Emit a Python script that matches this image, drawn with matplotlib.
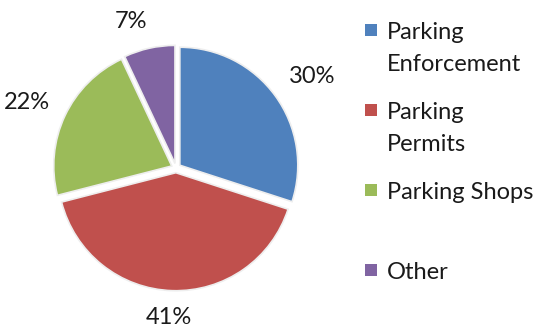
import numpy as np
import matplotlib
matplotlib.use("Agg")
import matplotlib.pyplot as plt
from matplotlib.patches import Rectangle

plt.rcParams["font.family"] = ["Lato", "DejaVu Sans"]

categories = ["Parking\nEnforcement", "Parking\nPermits", "Parking Shops", "Other"]
shares = [30, 41, 22, 7]
colors = ["#4F81BD", "#C0504D", "#9BBB59", "#8064A2"]

W, H = 539, 331
fig = plt.figure(figsize=(W / 100, H / 100), dpi=100)

# pie centre and radius in pixels
cx, cy, r = 176, 168, 118
lim = 1.35
half = lim * r
ax = fig.add_axes([(cx - half) / W, (H - cy - half) / H, 2 * half / W, 2 * half / H])

wedges, texts, autotexts = ax.pie(
    shares, colors=colors, startangle=90, counterclock=False,
    explode=[0.04] * len(shares),
    autopct=lambda p: f"{p:.0f}%", pctdistance=1.3,
    wedgeprops=dict(edgecolor="#eeeeee", linewidth=1.2),
    textprops=dict(fontsize=17, color="#1a1a1a"),
)
ax.set_xlim(-lim, lim)
ax.set_ylim(-lim, lim)
ax.set_aspect("equal")
ax.axis("off")

# push each percentage label out so its inner corner sits just off the rim
renderer = fig.canvas.get_renderer()
r0 = 1.18
for w, t in zip(wedges, autotexts):
    theta = np.deg2rad((w.theta1 + w.theta2) / 2)
    ux, uy = np.cos(theta), np.sin(theta)
    bb = t.get_window_extent(renderer)
    hw, hh = bb.width / 2 / r, bb.height / 2 / r
    t.set_position((r0 * ux + hw * np.clip(4 * ux, -1, 1),
                    r0 * uy + hh * np.clip(1.5 * uy, -1, 1)))
    t.set_ha("center")
    t.set_va("center")

# legend drawn by hand so each entry gets the same slot height
lx, ly, slot = 365, 30, 80
for i, (name, c) in enumerate(zip(categories, colors)):
    y = ly + i * slot
    fig.add_artist(Rectangle((lx / W, 1 - (y + 6) / H), 12 / W, 12 / H,
                             transform=fig.transFigure, facecolor=c, edgecolor="none"))
    fig.text((lx + 22) / W, 1 - (y - 8) / H, name, fontsize=17, color="#1a1a1a",
             va="top", ha="left", linespacing=1.64)

fig.savefig("out.png", dpi=100, facecolor="white")
